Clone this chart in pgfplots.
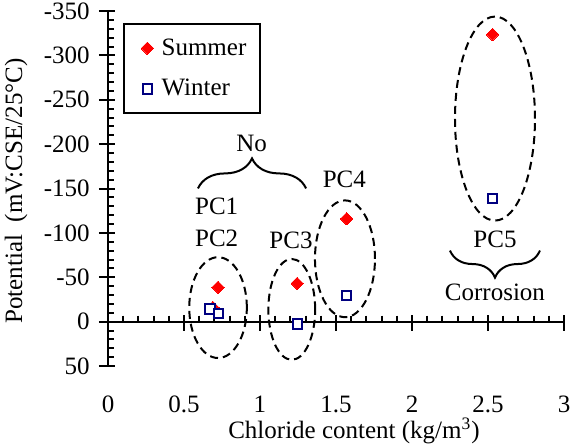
\documentclass[border=0pt]{standalone}
\usepackage{pgfplots}
\pgfplotsset{compat=1.18}
\usepackage{fontspec}
\setmainfont{Liberation Serif}
\usetikzlibrary{decorations.pathreplacing}
\definecolor{navyb}{RGB}{0,0,128}
\newcommand{\chartfont}{\rmfamily\fontsize{12.5}{15}\selectfont}
\pgfplotsset{singlemark/.style={legend image code/.code={\draw[##1] plot coordinates {(0pt,0pt)};}}}
\begin{document}
\begin{tikzpicture}
\path[use as bounding box] (-54pt,-39.5pt) rectangle (232.5pt,183pt);
\begin{axis}[
  at={(0,0)}, anchor=south west, scale only axis,
  width=228pt, height=177.5pt,
  xmin=0, xmax=3, ymin=-350, ymax=50, y dir=reverse,
  axis x line=middle, axis y line=left,
  axis line style={-, line width=1pt},
  hide obscured x ticks=false, hide obscured y ticks=false,
  clip=false,
  xtick={0,0.5,1,1.5,2,2.5,3},
  xticklabels={0,0.5,1,1.5,2,2.5,3},
  ytick={-350,-300,-250,-200,-150,-100,-50,0,50},
  yticklabels={-350,-300,-250,-200,-150,-100,-50,0,50},
  minor x tick num=4, minor y tick num=4,
  xtick align=outside, ytick align=inside,
  major tick length=3.3pt, minor tick length=3pt,
  every tick/.style={black, line width=1pt},
  extra x ticks={0.5,1,1.5,2,2.5,3},
  extra x tick labels={},
  extra x tick style={tick align=inside, major tick length=4.5pt},
  extra y ticks={-350,-300,-250,-200,-150,-100,-50,0,50},
  extra y tick labels={},
  extra y tick style={tick align=outside, major tick length=4.5pt},
  xticklabel style={font=\chartfont, anchor=base, inner sep=0pt, yshift=-42.35pt},
  yticklabel style={font=\chartfont, anchor=east, inner sep=0pt, xshift=-9pt},
  legend style={at={(0.035,0.963)}, anchor=north west, draw=none, fill=none,
    font=\chartfont, inner xsep=8.4pt, inner ysep=5pt, row sep=6.5pt, column sep=4pt,
    nodes={inner xsep=0pt, font=\chartfont}},
  legend cell align=left,
]
\addplot[only marks, mark=square*, mark size=2.2pt,
  mark options={rotate=45, fill=red, draw=red, line width=0pt}, singlemark]
  coordinates {(0.69,-16) (0.724,-38.7) (1.245,-43) (1.57,-116) (2.53,-323.6)};
\addlegendentry{\chartfont Summer}
\addplot[only marks, mark=square*, mark size=2.35pt,
  mark options={fill=white, draw=navyb, line width=1pt}, singlemark]
  coordinates {(0.671,-14.3) (0.726,-9.4) (1.245,2.6) (1.57,-29.3) (2.53,-139)};
\addlegendentry{\chartfont Winter}

\begin{scope}[line width=1pt, dash pattern=on 4pt off 2.5pt]
\draw (axis cs:0.724,-15.8) ellipse [x radius=14.4pt, y radius=25.2pt];
\draw (axis cs:1.209,-13.8) ellipse [x radius=11.7pt, y radius=25.2pt];
\draw (axis cs:1.559,-70.8) ellipse [x radius=15pt, y radius=29.2pt];
\draw (axis cs:2.546,-228.8) ellipse [x radius=20pt, y radius=51pt];
\end{scope}
\draw[line width=1pt, decorate, decoration={brace, amplitude=15pt}]
  (axis cs:0.592,-150.1) -- (axis cs:1.303,-150.1);
\draw[line width=1pt, decorate, decoration={brace, amplitude=13.5pt}]
  (axis cs:2.842,-80.1) -- (axis cs:2.25,-80.1);
\node[font=\chartfont] at (axis cs:0.945,-200.6) {No};
\node[font=\chartfont] at (axis cs:0.715,-129.8) {PC1};
\node[font=\chartfont] at (axis cs:0.715,-94) {PC2};
\node[font=\chartfont] at (axis cs:1.204,-91.4) {PC3};
\node[font=\chartfont] at (axis cs:1.555,-160) {PC4};
\node[font=\chartfont] at (axis cs:2.546,-92.2) {PC5};
\node[font=\chartfont] at (axis cs:2.546,-33.1) {Corrosion};
\end{axis}
\draw[line width=1pt] (8pt,126.5pt) rectangle (76pt,171pt);
\node[font=\chartfont, rotate=90, inner sep=0pt] at (-46pt,87.5pt) {Potential\ \ (mV:CSE/25°C)};
\node[font=\chartfont, anchor=base, inner sep=0pt] at (123pt,-36pt) {Chloride content (kg/m\textsuperscript{3})};
\end{tikzpicture}
\end{document}
